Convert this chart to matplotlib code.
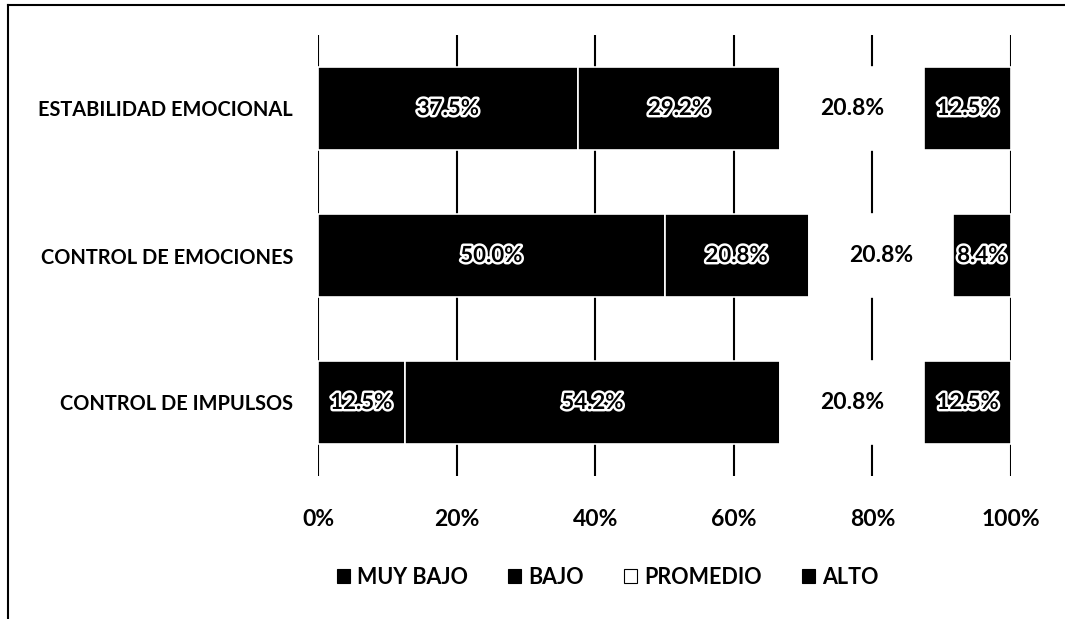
import matplotlib
matplotlib.use("Agg")
import matplotlib.pyplot as plt
import matplotlib.patheffects as pe
from matplotlib.patches import Patch
from matplotlib.lines import Line2D

categories = ["ESTABILIDAD EMOCIONAL", "CONTROL DE EMOCIONES", "CONTROL DE IMPULSOS"]
series_names = ["MUY BAJO", "BAJO", "PROMEDIO", "ALTO"]
muy_bajo = [37.5, 50.0, 12.5]
bajo = [29.2, 20.8, 54.2]
promedio = [20.8, 20.8, 20.8]
alto = [12.5, 8.4, 12.5]
xticks = [0, 20, 40, 60, 80, 100]
xtick_labels = ["0%", "20%", "40%", "60%", "80%", "100%"]

plt.rcParams['font.family'] = ['Lato', 'DejaVu Sans']

fig = plt.figure(figsize=(10.65, 6.19), dpi=100)
ax = fig.add_axes([318/1065, 1-476/619, (1011-318)/1065, (476-35)/619])

series = [muy_bajo, bajo, promedio, alto]
colors = ["black", "black", "white", "black"]
ypos = list(range(len(categories)))
left = [0.0]*len(categories)
for vals, col in zip(series, colors):
    ax.barh(ypos, vals, left=left, height=0.565, color=col,
            edgecolor="white", linewidth=1.2, zorder=3)
    for i, v in enumerate(vals):
        cx = left[i] + v/2
        if col == "black":
            ax.text(cx, ypos[i], f"{v:.1f}%", ha="center", va="center",
                    fontsize=16, fontweight="bold", color="black", zorder=5,
                    path_effects=[pe.withStroke(linewidth=3.5, foreground="white")])
        else:
            ax.text(cx, ypos[i], f"{v:.1f}%", ha="center", va="center",
                    fontsize=16.5, fontweight="bold", color="black", zorder=5)
    left = [l + v for l, v in zip(left, vals)]

ax.set_xlim(0, 100)
ax.set_ylim(len(categories)-0.5, -0.5)
ax.set_yticks(ypos)
ax.set_yticklabels(categories, fontsize=14.4, fontweight="bold")
ax.set_xticks(xticks)
ax.set_xticklabels(xtick_labels, fontsize=16.5, fontweight="bold")
ax.tick_params(axis="both", length=0)
ax.tick_params(axis="x", pad=24)
ax.tick_params(axis="y", pad=18)
for s in ax.spines.values():
    s.set_visible(False)
ax.set_axisbelow(True)
ax.grid(axis="x", color="black", linewidth=1.5, zorder=0)
ax.grid(axis="y", visible=False)

handles = [Patch(facecolor=c, edgecolor="black", linewidth=0.8) for c in colors]
leg = fig.legend(handles, series_names, loc="center", bbox_to_anchor=(608/1065, 1-577/619),
                 ncol=4, frameon=False, handlelength=0.6, handleheight=0.6,
                 handletextpad=0.35, columnspacing=1.85,
                 prop={"size": 15.5, "weight": "bold"})

# outer frame (left and top)
fig.add_artist(Line2D([8/1065, 8/1065], [0, 1-5/619], transform=fig.transFigure, color="black", linewidth=1.5))
fig.add_artist(Line2D([8/1065, 1], [1-5/619, 1-5/619], transform=fig.transFigure, color="black", linewidth=1.5))

fig.savefig("out.png", dpi=100)
